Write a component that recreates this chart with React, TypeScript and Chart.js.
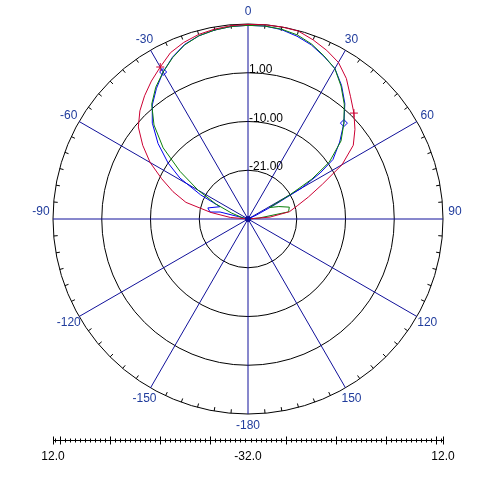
import { useEffect, useRef } from 'react';
import { Chart, registerables } from 'chart.js';

Chart.register(...registerables);

// ---- scale definition (dB) ----
const MIN_DB = -32;
const MAX_DB = 12;
const SPAN = MAX_DB - MIN_DB; // 44
const ringValues = [-21, -10, 1, 12];
const ringLabels = ['-21.00', '-10.00', '1.00', ''];
const spokeAngles = [0, 30, 60, 90, 120, 150, 180, 210, 240, 270, 300, 330];
const angleLabels = ['0', '30', '60', '90', '120', '150', '-180', '-150', '-120', '-90', '-60', '-30'];
const rulerLabelValues = [-SPAN, 0, SPAN];
const rulerMajorOffsets = [8.57, 19.86, 31.14, 42.42];
const rulerMinorStep = 1.128;
const markerAngles = [-30, 45];

// ---- series (angle in degrees, level in dB) ----
const redAngles = [-90, -85, -80, -75, -70, -65, -60, -55, -50, -45, -40, -35, -30, -25, -20, -15, -10, -5, 0, 5, 10, 15, 20, 25, 30, 35, 40, 45, 50, 55, 60, 65, 70, 75, 80, 85, 90];
const redDb = [-32, -28, -23.5, -17.5, -14, -10.5, -6.5, -3, 0.3, 2.5, 4.3, 6, 7.6, 9.4, 10.4, 11.1, 11.5, 11.8, 11.9, 12, 12, 11.9, 11, 10, 8.8, 6.7, 4, 1.8, -0.5, -3, -7.5, -13.5, -17.5, -20.5, -22.5, -27, -32];

const greenAngles = [-90, -80, -70, -65, -60, -55, -50, -45, -40, -35, -30, -25, -20, -15, -10, -5, 0, 5, 10, 15, 20, 25, 30, 35, 40, 45, 50, 55, 58, 60, 62, 68, 74, 80, 85, 90];
const greenDb = [-32, -31, -28, -24, -19, -13.3, -7, -2, 1.8, 4.3, 6.3, 8.2, 9.8, 10.8, 11.3, 11.6, 11.7, 11.7, 11.5, 11, 10, 8.6, 7.2, 4.6, 1.8, -1.4, -4.6, -9.6, -15, -21, -26.5, -24.5, -22.3, -22.7, -29.5, -32];

const blueAngles = [-90, -76, -79.6, -74.6, -66.3, -63, -59, -55, -50, -45, -40, -35, -30, -25, -20, -15, -10, -5, 0, 5, 10, 15, 20, 25, 30, 35, 40, 45, 50, 55, 57.5, 60, 62, 65, 90];
const blueDb = [-32, -25.5, -23.3, -22.6, -25.1, -20, -14.1, -10, -5.5, -1.5, 1.6, 4, 6.3, 8.3, 9.9, 10.8, 11.3, 11.6, 11.7, 11.7, 11.4, 10.7, 9.8, 8.5, 7.2, 4.8, 2, -1.4, -5, -8.6, -12.7, -18, -25, -30, -32];

// ---- layout constants ----
const W = 488;
const H = 490;
const PAD_LEFT = 53;
const PAD_RIGHT = 45;
const PAD_TOP = 24;
const AXIS_H = 49;
const PLOT_W = W - PAD_LEFT - PAD_RIGHT; // 390
const PLOT_H = H - PAD_TOP - AXIS_H; // 417
const Y_MIN = SPAN - (2 * SPAN * PLOT_H) / PLOT_W;

const RED = '#cc0033';
const GREEN = '#0a800a';
const BLUE = '#0000ee';
const SPOKE = '#10109a';
const LABEL_BLUE = '#203c9c';
const FONT = '"Liberation Sans", Arial, sans-serif';

function toPoints(angles: number[], db: number[]) {
  return angles.map((a, i) => {
    const r = Math.max(db[i], MIN_DB) - MIN_DB;
    const t = (a * Math.PI) / 180;
    return { x: r * Math.sin(t), y: r * Math.cos(t), a };
  });
}

const polarGrid = {
  id: 'polarGrid',
  beforeDatasetsDraw(chart: any) {
    const { ctx } = chart;
    const x = chart.scales.x;
    const y = chart.scales.y;
    const cx = x.getPixelForValue(0);
    const cy = y.getPixelForValue(0);
    const rad = (v: number) => x.getPixelForValue(v - MIN_DB) - cx;
    const R = rad(MAX_DB);
    ctx.save();
    ctx.strokeStyle = '#000';
    ctx.lineWidth = 1;
    ringValues.forEach((v) => {
      ctx.beginPath();
      ctx.arc(cx, cy, rad(v), 0, Math.PI * 2);
      ctx.stroke();
    });
    ctx.beginPath();
    for (let a = 0; a < 360; a += 5) {
      if (a % 30 === 0) continue;
      const t = (a * Math.PI) / 180;
      const s = Math.sin(t);
      const c = Math.cos(t);
      ctx.moveTo(cx + R * s, cy - R * c);
      ctx.lineTo(cx + (R - 4) * s, cy - (R - 4) * c);
    }
    ctx.stroke();
    ctx.strokeStyle = SPOKE;
    ctx.beginPath();
    spokeAngles.forEach((a) => {
      const t = (a * Math.PI) / 180;
      ctx.moveTo(cx, cy);
      ctx.lineTo(cx + R * Math.sin(t), cy - R * Math.cos(t));
    });
    ctx.stroke();
    ctx.fillStyle = LABEL_BLUE;
    ctx.font = `12px ${FONT}`;
    ctx.textAlign = 'center';
    ctx.textBaseline = 'middle';
    spokeAngles.forEach((a, i) => {
      const t = (a * Math.PI) / 180;
      const s = Math.sin(t);
      const c = Math.cos(t);
      const lr = R + 12;
      const shift = Math.abs(s) > 0.99 ? -7 : 0;
      ctx.fillText(angleLabels[i], cx + lr * s, cy - lr * c + shift);
    });
    ctx.fillStyle = '#000';
    ctx.textAlign = 'left';
    ctx.textBaseline = 'alphabetic';
    ringValues.forEach((v, i) => {
      if (!ringLabels[i]) return;
      ctx.fillText(ringLabels[i], cx + 1, cy - rad(v));
    });
    ctx.restore();
  },
  afterDatasetsDraw(chart: any) {
    const { ctx } = chart;
    const cx = chart.scales.x.getPixelForValue(0);
    const cy = chart.scales.y.getPixelForValue(0);
    ctx.save();
    ctx.fillStyle = SPOKE;
    ctx.beginPath();
    ctx.arc(cx, cy, 3, 0, Math.PI * 2);
    ctx.fill();
    ctx.restore();
  },
  afterDraw(chart: any) {
    const { ctx, chartArea } = chart;
    const x = chart.scales.x;
    const yLine = Math.round(chartArea.bottom) - 0.5;
    const px = (v: number) => Math.round(x.getPixelForValue(v)) + 0.5;
    ctx.save();
    ctx.strokeStyle = '#000';
    ctx.lineWidth = 1;
    ctx.beginPath();
    ctx.moveTo(px(-SPAN), yLine);
    ctx.lineTo(px(SPAN), yLine);
    const majors = [SPAN, ...rulerMajorOffsets];
    majors.forEach((d) => {
      [-d, d].forEach((v) => {
        ctx.moveTo(px(v), yLine - 4);
        ctx.lineTo(px(v), yLine + 4);
      });
    });
    const first = rulerMajorOffsets[0];
    for (let d = first - Math.floor(first / rulerMinorStep) * rulerMinorStep; d < SPAN - 0.3; d += rulerMinorStep) {
      [-d, d].forEach((v) => {
        ctx.moveTo(px(v), yLine - 2);
        ctx.lineTo(px(v), yLine + 2);
      });
    }
    ctx.stroke();
    ctx.restore();
  },
};

function makeDataset(label: string, angles: number[], db: number[], color: string, pointStyle: string, markers: boolean) {
  return {
    label,
    data: toPoints(angles, db),
    showLine: true,
    borderColor: color,
    borderWidth: 1,
    tension: 0,
    fill: false,
    clip: false as any,
    pointStyle,
    pointBorderColor: color,
    pointBackgroundColor: 'rgba(0,0,0,0)',
    pointBorderWidth: 1,
    pointRadius: (ctx: any) =>
      markers && ctx.raw && markerAngles.includes(ctx.raw.a) ? (pointStyle === 'cross' ? 4 : 3.5) : 0,
    pointHoverRadius: 0,
  };
}

export default function App() {
  const ref = useRef<HTMLCanvasElement | null>(null);
  useEffect(() => {
    if (!ref.current) return;
    const chart = new Chart(ref.current, {
      type: 'scatter',
      data: {
        datasets: [
          makeDataset('red', redAngles, redDb, RED, 'cross', true),
          makeDataset('green', greenAngles, greenDb, GREEN, 'circle', false),
          makeDataset('blue', blueAngles, blueDb, BLUE, 'rectRot', true),
        ] as any,
      },
      options: {
        responsive: false,
        animation: false,
        devicePixelRatio: 1,
        events: [],
        layout: { padding: { left: PAD_LEFT, right: PAD_RIGHT, top: PAD_TOP, bottom: 0 } },
        plugins: { legend: { display: false }, tooltip: { enabled: false } },
        scales: {
          x: {
            type: 'linear',
            min: -SPAN,
            max: SPAN,
            grid: { display: false, drawTicks: false },
            border: { display: false },
            afterBuildTicks: (s: any) => {
              s.ticks = rulerLabelValues.map((v) => ({ value: v }));
            },
            afterFit: (s: any) => {
              s.height = AXIS_H;
            },
            ticks: {
              autoSkip: false,
              maxRotation: 0,
              minRotation: 0,
              padding: 8,
              color: '#000',
              font: { size: 12, family: FONT },
              callback: (v: any) => (Math.abs(Number(v)) + MIN_DB).toFixed(1),
            },
          },
          y: { type: 'linear', display: false, min: Y_MIN, max: SPAN },
        },
      } as any,
      plugins: [polarGrid as any],
    });
    return () => chart.destroy();
  }, []);
  return (
    <div style={{ position: 'absolute', left: 0, top: 0, width: W, height: H, background: '#fff' }}>
      <canvas ref={ref} width={W} height={H} style={{ width: W, height: H, display: 'block' }} />
    </div>
  );
}
